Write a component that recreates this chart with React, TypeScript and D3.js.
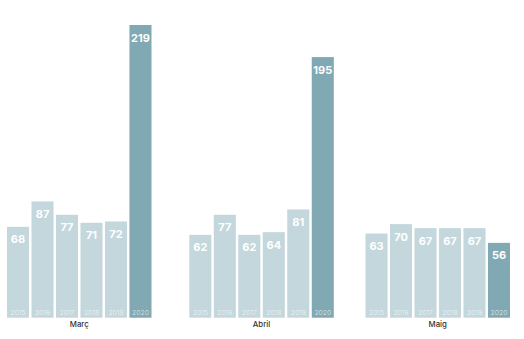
import React from "react";
import * as d3 from "d3";

const months = ["Març", "Abril", "Maig"];
const years = ["2015", "2016", "2017", "2018", "2019", "2020"];
const marc = [68, 87, 77, 71, 72, 219];
const abril = [62, 77, 62, 64, 81, 195];
const maig = [63, 70, 67, 67, 67, 56];
const series = [marc, abril, maig];

const W = 524;
const H = 339;
const groupStarts = [7, 189.3, 365.5];
const groupWidth = 144.5;
const baseY = 317.7;
const topY = 25;

export default function App() {
  const y = d3.scaleLinear().domain([0, 219]).range([baseY, topY]);
  const x = d3.scaleBand<string>().domain(years).range([0, groupWidth]).paddingInner(0.1);
  const font = "Inter, 'Noto Sans', sans-serif";
  return (
    <svg width={W} height={H} style={{ position: "absolute", left: 0, top: 0 }}>
      {months.map((m, gi) => (
        <g key={m} transform={`translate(${groupStarts[gi]},0)`}>
          {series[gi].map((v, i) => {
            const yr = years[i];
            const bx = x(yr) as number;
            const bw = x.bandwidth();
            const is2020 = yr === "2020";
            return (
              <g key={yr}>
                <rect x={bx} y={y(v)} width={bw} height={baseY - y(v)} fill={is2020 ? "#80a9b3" : "#c3d7dd"} />
                <text x={bx + bw / 2} y={y(v) + 16.5} textAnchor="middle" fill="#fff" fontFamily={font} fontWeight={700} fontSize={11}>
                  {v}
                </text>
                <text x={bx + bw / 2} y={baseY - 2.8} textAnchor="middle" fill="#fff" fillOpacity={0.75} fontFamily={font} fontWeight={300} fontSize={6.8}>
                  {yr}
                </text>
              </g>
            );
          })}
          <text x={groupWidth / 2} y={326.5} textAnchor="middle" fill="#333" fontFamily={font} fontWeight={500} fontSize={7.8}>
            {m}
          </text>
        </g>
      ))}
    </svg>
  );
}
